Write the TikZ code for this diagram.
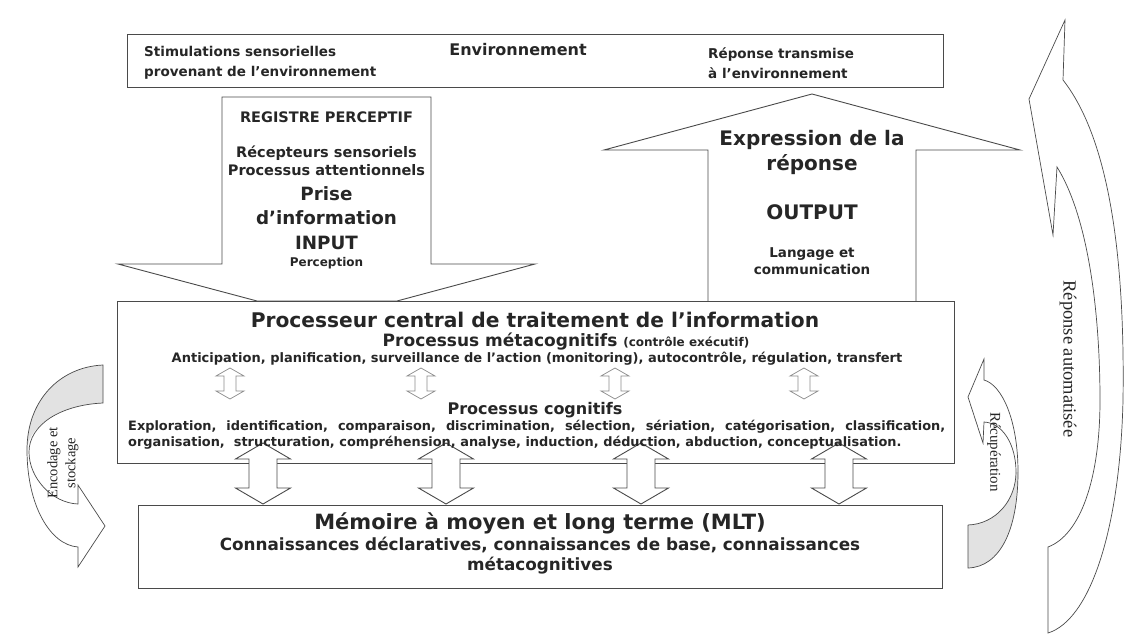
\documentclass[tikz,border=0pt]{standalone}
\usepackage{fontspec}
\setmainfont{DejaVu Sans}
\newfontfamily\serifrm{Liberation Serif}
\newcommand{\fsz}[2]{\fontsize{#1}{#2}\selectfont}
\definecolor{edge}{HTML}{4A4A4A}
\definecolor{ink}{HTML}{262626}
\definecolor{backside}{HTML}{E2E2E2}
\definecolor{thinedge}{HTML}{8C8C8C}

\begin{document}
\begin{tikzpicture}[x=1pt,y=-1pt,
  box/.style={draw=edge,line width=0.9pt,fill=white,inner sep=0pt},
  blk/.style={draw=edge,line width=0.9pt,fill=white},
  thinarr/.style={draw=thinedge,line width=0.7pt,fill=white},
  curv/.style={draw=edge,line width=0.7pt,fill=white},
  lbl/.style={text=ink,inner sep=0pt},
  rot/.style={text=ink,inner sep=0pt}]
  \useasboundingbox (0,0) rectangle (1128,634);
  % ---------- environment ----------
  \node[box,minimum width=816pt,minimum height=53pt] (env) at (535,60.5) {};
  \node[lbl,font=\bfseries\fsz{13.5}{20.5},align=left,anchor=west] (stim) at (144,63) {Stimulations sensorielles\\provenant de l’environnement};
  \node[lbl,font=\bfseries\fsz{16}{20}] (envt) at (518,50) {Environnement};
  \node[lbl,font=\bfseries\fsz{13.5}{20.5},align=left,anchor=west] (trans) at (708,63) {Réponse transmise\\à l’environnement};
  % ---------- input arrow ----------
  \draw[blk] (222,97) -- (431,97) -- (431,264) -- (535,264) -- (397,301) -- (257,301) -- (118,264) -- (222,264) -- cycle;
  \node[lbl,font=\bfseries\fsz{14.5}{16}] (reg) at (326.5,117) {REGISTRE PERCEPTIF};
  \node[lbl,font=\bfseries\fsz{14.5}{18}] [align=center] (recep) at (326.5,161) {Récepteurs sensoriels\\Processus attentionnels};
  \node[lbl,font=\bfseries\fsz{18.3}{24.5},align=center] (prise) at (326.5,218) {Prise\\d’information\\INPUT};
  \node[lbl,font=\bfseries\fsz{12}{16}] (perc) at (326.5,263) {Perception};
  % ---------- output arrow ----------
  \draw[blk] (708,301) -- (708,150) -- (604,150) -- (812,94) -- (1020,150) -- (916,150) -- (916,301);
  \node[lbl,font=\bfseries\fsz{20}{25},align=center] (expr) at (812,152.5) {Expression de la\\réponse};
  \node[lbl,font=\bfseries\fsz{20}{24}] (outp) at (812,212) {OUTPUT};
  \node[lbl,font=\bfseries\fsz{13.5}{17},align=center] (lang) at (812,261.5) {Langage et\\communication};
  % ---------- boxes ----------
  \node[box,minimum width=837pt,minimum height=162pt] (proc) at (535.5,382) {};
  \node[box,minimum width=804pt,minimum height=83pt] (mlt) at (540,546.5) {};
  % ---------- double arrows ----------
  \foreach \x in {230,421,615,804}
    \draw[thinarr] (\x,368) -- ++(14,8) -- ++(-8,0) -- ++(0,15) -- ++(8,0) -- ++(-14,8)
      -- ++(-14,-8) -- ++(8,0) -- ++(0,-15) -- ++(-8,0) -- cycle;
  \foreach \x in {263,446,641,839}
    \draw[blk] (\x,443) -- ++(27.5,16) -- ++(-13.5,0) -- ++(0,29) -- ++(13.5,0) -- ++(-27.5,16)
      -- ++(-27.5,-16) -- ++(13.5,0) -- ++(0,-29) -- ++(-13.5,0) -- cycle;
  % ---------- processor texts ----------
  \node[lbl,font=\bfseries\fsz{20.2}{24}] (ptitle) at (535,320) {Processeur central de traitement de l’information};
  \node[lbl,font=\bfseries\fsz{17}{18}] (meta) at (566,342) {Processus métacognitifs {\fsz{12}{13}(contrôle exécutif)}};
  \node[lbl,font=\bfseries\fsz{13}{15}] (antic) at (537,359) {Anticipation, planification, surveillance de l’action (monitoring), autocontrôle, régulation, transfert};
  \node[lbl,font=\bfseries\fsz{16}{18}] (cogn) at (535,410) {Processus cognitifs};
  \node[lbl,font=\bfseries\fsz{12.9}{15},anchor=west] (expl) at (128,427) {\makebox[817pt][s]{Exploration, identification, comparaison, discrimination, sélection, sériation, catégorisation, classification,}};
  \node[lbl,font=\bfseries\fsz{12.9}{15},anchor=west] (orga) at (128,443) {organisation,\ \ structuration, compréhension, analyse, induction, déduction, abduction, conceptualisation.};
  % ---------- memory texts ----------
  \node[lbl,font=\bfseries\fsz{21}{22}] (mtitle) at (540,523) {Mémoire à moyen et long terme (MLT)};
  \node[lbl,font=\bfseries\fsz{16.8}{20},align=center] (mknow) at (540,556) {Connaissances déclaratives, connaissances de base, connaissances\\métacognitives};
  % ---------- encodage (left) ----------
  \fill[backside] (103,365) .. controls (60,367) and (27,400) .. (27,450)
    .. controls (29,425) and (60,405) .. (103,403) -- cycle;
  \draw[curv,fill=none] (103,365) .. controls (60,367) and (27,400) .. (27,450)
    .. controls (27,505) and (50,545) .. (78,547) -- (78,567) -- (105,526) -- (78,485) -- (78,504)
    .. controls (52,503) and (29,478) .. (29,452) .. controls (29,425) and (60,405) .. (103,403) -- cycle;
  \node[rot,font=\serifrm\fsz{14.5}{18},rotate=90,align=center] (enc) at (63,463) {Encodage et\\stockage};
  % ---------- recuperation (right) ----------
  \fill[backside] (968,568) .. controls (1000,567) and (1018,530) .. (1018,472)
    -- (1016,472) .. controls (1016,500) and (996,524) .. (968,525) -- cycle;
  \draw[curv,fill=none] (968,525) -- (968,568) .. controls (1000,567) and (1018,530) .. (1018,472)
    .. controls (1018,420) and (1002,385) .. (984,380) -- (984,359) -- (968,397) -- (983,443) -- (984,422)
    .. controls (1003,423) and (1016,445) .. (1016,472) .. controls (1016,500) and (996,524) .. (968,525);
  \node[rot,font=\serifrm\fsz{15}{18},rotate=-90] (recup) at (994,452) {Récupération};
  % ---------- reponse automatisee ----------
  \draw[curv] (1048,547) -- (1048,633) .. controls (1090,620) and (1120,530) .. (1123,400)
    .. controls (1125,260) and (1110,140) .. (1063,80) -- (1065,20) -- (1029,99) -- (1053,235) -- (1057,167)
    .. controls (1090,220) and (1100,320) .. (1100,400) .. controls (1100,480) and (1080,535) .. (1048,547) -- cycle;
  \node[rot,font=\serifrm\fsz{18.5}{20},rotate=-90] (auto) at (1068,359) {Réponse automatisée};
\end{tikzpicture}
\end{document}
